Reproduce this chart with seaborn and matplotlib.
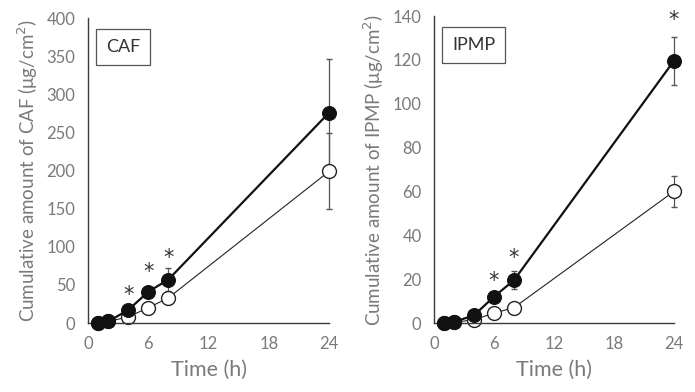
import matplotlib
matplotlib.use('Agg')
import matplotlib.pyplot as plt
import seaborn as sns
import pandas as pd

# data
time_h = [1, 2, 4, 6, 8, 24]

caf_filled = [0, 2, 17, 41, 57, 276]
caf_filled_err = [0, 0, 2, 3, 15, 70]
caf_open = [0, 2, 8, 20, 33, 199]
caf_open_err = [0, 0, 1, 2, 3, 50]
caf_star_t = [4, 6, 8]
caf_star_y = [37, 67, 85]

ipmp_filled = [0, 0.5, 3.5, 12, 19.5, 119.5]
ipmp_filled_err = [0, 0, 0.5, 1, 4, 11]
ipmp_open = [0, 0.3, 1.5, 4.5, 7, 60]
ipmp_open_err = [0, 0, 0.3, 0.5, 1, 7]
ipmp_star_t = [6, 8, 24]
ipmp_star_y = [19, 29.5, 138]

x_ticks = [0, 6, 12, 18, 24]

sns.set_style("white")
plt.rcParams['font.family'] = ['Lato', 'DejaVu Sans']
GRAY = "#7a7a7a"
DARK = "#3a3a3a"


def draw_panel(ax, filled, filled_err, opened, opened_err, star_t, star_y,
               ymax, ystep, name):
    df = pd.DataFrame({"t": time_h, "filled": filled, "open": opened})
    ax.errorbar(time_h, opened, yerr=opened_err, fmt="none", ecolor="#555555",
                elinewidth=0.9, capsize=2, clip_on=False, zorder=1)
    ax.errorbar(time_h, filled, yerr=filled_err, fmt="none", ecolor="#555555",
                elinewidth=0.9, capsize=2, clip_on=False, zorder=1)
    sns.lineplot(data=df, x="t", y="open", ax=ax, color="#222222",
                 linewidth=0.8, marker="o", markersize=10,
                 markerfacecolor="white", markeredgecolor="#222222",
                 markeredgewidth=1.0, clip_on=False, zorder=2)
    sns.lineplot(data=df, x="t", y="filled", ax=ax, color="#111111",
                 linewidth=1.6, marker="o", markersize=10,
                 markerfacecolor="#111111", markeredgecolor="#111111",
                 clip_on=False, zorder=3)
    for t, y in zip(star_t, star_y):
        ax.text(t, y, "*", ha="center", va="center", fontsize=15,
                color="#333333", family="DejaVu Sans")

    ax.set_xlim(0, 24)
    ax.set_ylim(0, ymax)
    ax.set_xticks(x_ticks)
    ax.set_yticks(range(0, ymax + 1, ystep))
    ax.tick_params(axis="y", direction="in", length=4, color=DARK,
                   labelcolor=GRAY, labelsize=12, pad=9)
    ax.tick_params(axis="x", direction="out", length=3, color=DARK,
                   labelcolor=GRAY, labelsize=12, pad=6)
    for side in ["top", "right"]:
        ax.spines[side].set_visible(False)
    for side in ["left", "bottom"]:
        ax.spines[side].set_color(DARK)
        ax.spines[side].set_linewidth(1.0)
    ax.set_xlabel("Time (h)", fontsize=15.5, color=GRAY, labelpad=6)
    ax.set_ylabel(f"Cumulative amount of {name} (\u03bcg/cm$^2$)",
                  fontsize=13.5, color=GRAY, labelpad=5)
    ax.text(0.075, 0.905, name, transform=ax.transAxes, fontsize=13,
            color="#333333", va="center", ha="left",
            bbox=dict(boxstyle="square,pad=0.55", fc="white", ec="#555555",
                      lw=0.9))


fig = plt.figure(figsize=(6.95, 3.92), dpi=100)
ax1 = fig.add_axes([0.1266, 0.176, 0.347, 0.778])
ax2 = fig.add_axes([0.6245, 0.176, 0.345, 0.783])

draw_panel(ax1, caf_filled, caf_filled_err, caf_open, caf_open_err,
           caf_star_t, caf_star_y, 400, 50, "CAF")
draw_panel(ax2, ipmp_filled, ipmp_filled_err, ipmp_open, ipmp_open_err,
           ipmp_star_t, ipmp_star_y, 140, 20, "IPMP")

fig.savefig("out.png", dpi=100)
plt.close(fig)
